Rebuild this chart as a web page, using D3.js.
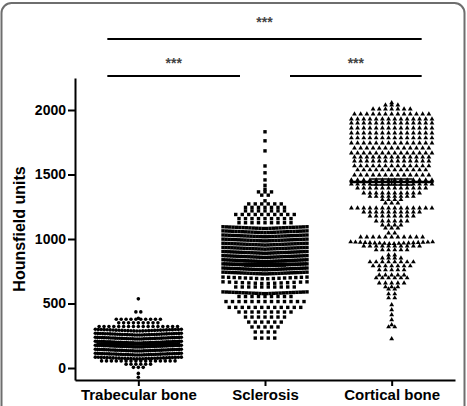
<!DOCTYPE html>
<html>
<head>
<meta charset="utf-8">
<script src="https://cdn.jsdelivr.net/npm/d3@7"></script>
<style>
  body { margin: 0; background: #fff; }
  text { font-family: "Liberation Sans", Arial, sans-serif; font-weight: bold; }
</style>
</head>
<body>
<svg id="chart" width="467" height="406"></svg>
<script>
//////////////////////////////////////////////////////////////////////////////
// Data: each row is [Hounsfield value, number of points]

var groups = ["Trabecular bone", "Sclerosis", "Cortical bone"];

var trabecularRows = [
    [550, 1], [435, 2], [400, 1], [378, 10], [350, 9], [322, 17],
    [300, 30], [269, 36], [238, 40], [207, 42], [176, 42], [145, 40],
    [114, 38], [84, 30], [55, 16], [30, 6], [5, 3], [-28, 1], [-58, 1]
];

var sclerosisRows = [
    [1845, 1], [1775, 1], [1697, 1], [1580, 1], [1527, 1], [1472, 1],
    [1430, 1], [1400, 1], [1365, 3], [1340, 2], [1310, 1], [1272, 6],
    [1245, 7], [1218, 7], [1190, 10], [1158, 9], [1126, 9], [1095, 26],
    [1063, 27], [1031, 28], [999, 28], [967, 29], [935, 29], [903, 30],
    [871, 30], [839, 32], [807, 34], [775, 32], [743, 28], [705, 16],
    [668, 14], [628, 10], [590, 26], [554, 9], [515, 13], [470, 12],
    [434, 9], [395, 7], [356, 6], [318, 5], [279, 4], [232, 4]
];

var corticalRows = [
    [2069, 1], [2038, 3], [2007, 7], [1969, 13], [1930, 14], [1899, 14],
    [1860, 14], [1821, 14], [1783, 14], [1744, 14], [1705, 13], [1666, 14],
    [1635, 13], [1604, 13], [1566, 13], [1535, 12], [1496, 13], [1457, 14],
    [1425, 14], [1395, 12], [1356, 10], [1330, 8], [1305, 4], [1279, 3],
    [1240, 14], [1209, 10], [1178, 8], [1139, 6], [1108, 4], [1085, 3],
    [1046, 2], [1015, 11], [977, 18], [945, 10], [915, 6], [876, 2],
    [852, 4], [822, 8], [791, 7], [760, 5], [721, 5], [698, 6], [659, 5],
    [628, 3], [612, 2], [574, 2], [543, 2], [504, 1], [465, 1], [426, 1],
    [388, 1], [349, 1], [318, 2], [240, 1]
];

var groupMeans = [185, 808, 1442];
var groupSems  = [6, 18, 24];

var yTicks = [0, 500, 1000, 1500, 2000];

// [from group, to group, label, bracket level]
var comparisons = [[0, 1, "***", 0], [1, 2, "***", 0], [0, 2, "***", 1]];

//////////////////////////////////////////////////////////////////////////////
// Scales and frame

var svg = d3.select("#chart");

var x = d3.scalePoint().domain(groups).range([75, 455]).padding(0.5);
var y = d3.scaleLinear().domain([-93, 2248]).range([380, 78]);

svg.append("rect")
    .attr("x", 1.5).attr("y", 3)
    .attr("width", 463).attr("height", 430)
    .attr("rx", 10)
    .attr("fill", "none")
    .attr("stroke", "#6e6e6e")
    .attr("stroke-width", 2);

//////////////////////////////////////////////////////////////////////////////
// Axes

var yAxis = svg.append("g")
    .attr("transform", "translate(75,0)")
    .call(d3.axisLeft(y).tickValues(yTicks).tickFormat(d3.format("d"))
        .tickSize(7).tickSizeOuter(0).tickPadding(2));

var xAxis = svg.append("g")
    .attr("transform", "translate(0,380)")
    .call(d3.axisBottom(x).tickSize(6).tickSizeOuter(0).tickPadding(3));

[yAxis, xAxis].forEach(function(ax) {
    ax.select(".domain").attr("stroke", "#000").attr("stroke-width", 2);
    ax.selectAll(".tick line").attr("stroke", "#000").attr("stroke-width", 2);
    ax.selectAll("text").attr("fill", "#000");
});
yAxis.selectAll("text").style("font-size", "14px");
xAxis.selectAll("text").style("font-size", "15px");

svg.append("text")
    .attr("transform", "translate(25,229) rotate(-90)")
    .attr("text-anchor", "middle")
    .style("font-size", "16px")
    .text("Hounsfield units");

//////////////////////////////////////////////////////////////////////////////
// Scatter rows, centred on each group, squeezed when a row gets too wide

function rowPoints(rows, gi, spacing, maxHalf)
{
    var cx = x(groups[gi]);
    var pts = [];
    rows.forEach(function(r) {
        var n = r[1];
        var step = n > 1 ? Math.min(spacing, 2 * maxHalf / (n - 1)) : 0;
        for (var i = 0; i < n; i++) {
            var t = n > 1 ? (i - (n - 1) / 2) / ((n - 1) / 2) : 0;
            var sag = step < spacing ? 1.8 * (1 - Math.abs(t)) : 0;
            pts.push({ x: cx + (i - (n - 1) / 2) * step, y: y(r[0]) + sag });
        }
    });
    return pts;
}

svg.append("g").selectAll("circle")
    .data(rowPoints(trabecularRows, 0, 4.9, 43))
    .enter().append("circle")
    .attr("cx", function(d) { return d.x; })
    .attr("cy", function(d) { return d.y; })
    .attr("r", 1.8)
    .attr("fill", "#000");

svg.append("g").selectAll("rect")
    .data(rowPoints(sclerosisRows, 1, 6.5, 42))
    .enter().append("rect")
    .attr("x", function(d) { return d.x - 1.7; })
    .attr("y", function(d) { return d.y - 1.7; })
    .attr("width", 3.4).attr("height", 3.4)
    .attr("fill", "#000");

var tri = d3.symbol().type(d3.symbolTriangle).size(10);
svg.append("g").selectAll("path")
    .data(rowPoints(corticalRows, 2, 6.2, 41))
    .enter().append("path")
    .attr("d", tri)
    .attr("transform", function(d) { return "translate(" + d.x + "," + d.y + ")"; })
    .attr("fill", "#000");

//////////////////////////////////////////////////////////////////////////////
// Mean lines with SEM whiskers

var summary = svg.append("g").attr("stroke", "#000");
groups.forEach(function(g, i) {
    var cx = x(g);
    summary.append("line")
        .attr("x1", cx - 42).attr("x2", cx + 42)
        .attr("y1", y(groupMeans[i])).attr("y2", y(groupMeans[i]))
        .attr("stroke-width", 2.5);
    [groupMeans[i] - groupSems[i], groupMeans[i] + groupSems[i]].forEach(function(v) {
        summary.append("line")
            .attr("x1", cx - 21).attr("x2", cx + 21)
            .attr("y1", y(v)).attr("y2", y(v))
            .attr("stroke-width", 1.5);
    });
    summary.append("line")
        .attr("x1", cx).attr("x2", cx)
        .attr("y1", y(groupMeans[i] - groupSems[i]))
        .attr("y2", y(groupMeans[i] + groupSems[i]))
        .attr("stroke-width", 1.5);
});

//////////////////////////////////////////////////////////////////////////////
// Significance brackets

var levelLineY = [76, 39];
var levelStarY = [68, 27];
var last = groups.length - 1;

comparisons.forEach(function(c) {
    var x1 = c[0] === 0 ? x(groups[c[0]]) - 31 : x(groups[c[0]]) + 25;
    var x2 = c[1] === last ? x(groups[c[1]]) + 30 : x(groups[c[1]]) - 25;
    svg.append("line")
        .attr("x1", x1).attr("x2", x2)
        .attr("y1", levelLineY[c[3]]).attr("y2", levelLineY[c[3]])
        .attr("stroke", "#000")
        .attr("stroke-width", 2);
    svg.append("text")
        .attr("x", (x1 + x2) / 2)
        .attr("y", levelStarY[c[3]])
        .attr("text-anchor", "middle")
        .attr("fill", "#444")
        .style("font-size", "14px")
        .text(c[2]);
});
</script>
</body>
</html>
